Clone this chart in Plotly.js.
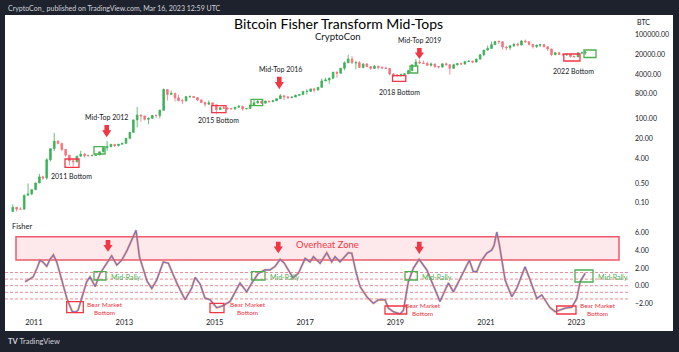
<!DOCTYPE html>
<html>
<head>
<meta charset="utf-8">
<script src="https://cdn.plot.ly/plotly-3.0.1.min.js"></script>
<style>html,body{margin:0;padding:0;background:#1e222d;}#chart{width:679px;height:352px;}</style>
</head>
<body>
<div id="chart"></div>
<script>
// ---------- DATA ----------
// Monthly BTC candles, Jul 2010 .. Mar 2023 (open = previous month's close)
const firstCandleMonth = '2010-07';
const firstOpen = 0.05;
const closes = [
  0.07, 0.06, 0.06, 0.19, 0.21, 0.30,
  0.52, 0.86, 0.78, 3.5, 8.7, 16.1, 13.4, 8.2, 5.1, 3.2, 3.0, 4.7,
  5.5, 4.9, 4.9, 5.0, 5.2, 6.7, 9.4, 10.2, 12.4, 11.2, 12.6, 13.5,
  20.4, 33.4, 93, 139, 129, 97, 106, 135, 133, 204, 1130, 757,
  830, 570, 450, 445, 630, 640, 585, 480, 387, 338, 378, 320,
  217, 254, 244, 236, 230, 263, 284, 230, 236, 314, 377, 430,
  369, 437, 416, 448, 531, 673, 624, 575, 609, 700, 742, 964,
  970, 1190, 1080, 1348, 2300, 2480, 2875, 4700, 4340, 6470, 10200, 13860,
  10200, 10330, 6930, 9240, 7490, 6400, 7730, 7030, 6630, 6370, 4040, 3740,
  3460, 3850, 4100, 5320, 8570, 10820, 10080, 9630, 8290, 9200, 7570, 7190,
  9350, 8600, 6440, 8660, 9460, 9140, 11350, 11660, 10780, 13800, 19700, 28990,
  33100, 45200, 58800, 57700, 37300, 35000, 41500, 47100, 43800, 61300, 57000, 46300,
  38500, 43200, 45500, 37700, 31800, 19900, 23300, 20050, 19400, 20500, 17200, 16550,
  23100, 23150, 24400
];
const highs = [
  0.09, 0.07, 0.07, 0.19, 0.50, 0.30,
  0.52, 1.10, 0.95, 4.0, 8.8, 31.9, 17.5, 14.0, 8.5, 5.2, 3.6, 4.8,
  7.4, 6.1, 5.4, 5.3, 5.2, 6.8, 9.7, 16.4, 12.6, 12.9, 12.8, 13.6,
  20.8, 33.5, 95, 266, 140, 129, 111, 138, 144, 218, 1242, 1163,
  1030, 864, 720, 540, 630, 680, 660, 600, 500, 420, 460, 382,
  320, 265, 300, 261, 247, 268, 317, 285, 247, 334, 503, 470,
  463, 448, 441, 467, 548, 780, 705, 625, 612, 740, 754, 976,
  1153, 1200, 1290, 1350, 2760, 2990, 2950, 4770, 4980, 6470, 11400, 19700,
  17700, 11800, 11700, 9760, 9990, 7760, 8500, 7760, 7400, 7400, 6570, 4310,
  4110, 4210, 4150, 5640, 9070, 13880, 13180, 12330, 10940, 10370, 9510, 7740,
  9590, 10500, 9190, 9460, 10070, 10420, 11450, 12470, 12070, 14100, 19900, 29300,
  41900, 58300, 61800, 64900, 59500, 41300, 42300, 50500, 52900, 67000, 69000, 59100,
  47900, 45800, 48200, 47400, 39800, 31900, 24700, 25200, 22800, 21000, 21500, 18400,
  23900, 25250, 26500
];
const lows = [
  0.05, 0.05, 0.06, 0.06, 0.19, 0.19,
  0.29, 0.52, 0.68, 0.67, 3.0, 7.2, 12.6, 7.1, 4.5, 2.2, 2.0, 2.8,
  4.6, 4.2, 4.6, 4.7, 4.9, 5.2, 6.5, 7.1, 9.9, 10.0, 10.4, 12.6,
  13.2, 19.1, 33, 50, 80, 88, 65, 100, 110, 106, 200, 456,
  745, 420, 439, 340, 420, 560, 563, 440, 370, 275, 320, 305,
  152, 210, 240, 215, 226, 216, 253, 198, 225, 235, 309, 350,
  350, 364, 396, 413, 440, 527, 470, 530, 570, 605, 685, 745,
  752, 920, 890, 1060, 1340, 2300, 1830, 2650, 2970, 4110, 5500, 10900,
  9400, 5900, 6600, 6430, 7040, 5750, 6070, 5880, 6140, 6200, 3650, 3160,
  3400, 3380, 3730, 4100, 5330, 7450, 9070, 9460, 7800, 7400, 6530, 6430,
  6850, 8480, 3860, 6200, 8130, 8930, 8980, 10990, 9880, 10540, 13200, 17600,
  28100, 32300, 45000, 47000, 30000, 28800, 29300, 37300, 39600, 43300, 53300, 42000,
  32900, 34300, 37200, 37600, 26700, 17600, 18800, 19600, 18200, 18200, 15500, 16300,
  16500, 21400, 19600
];

// Fisher transform readings
const fisherDates = [
  '2010-10-22','2010-12-01','2010-12-26','2011-01-27','2011-02-20','2011-03-14','2011-04-15','2011-05-12',
  '2011-06-08','2011-07-05','2011-08-17','2011-09-26','2011-11-06','2011-11-30','2011-12-24','2012-01-09',
  '2012-02-11','2012-03-03','2012-03-30','2012-05-10','2012-06-19','2012-08-12','2012-09-21','2012-11-01',
  '2012-12-11','2013-01-23','2013-03-02','2013-04-06','2013-05-03','2013-06-04','2013-07-04','2013-08-11',
  '2013-09-20','2013-11-12','2013-12-23','2014-03-01','2014-05-07','2014-06-30','2014-07-27','2014-09-05',
  '2014-10-15','2014-11-25','2015-01-18','2015-03-02','2015-05-05','2015-07-25','2015-09-17','2015-10-28',
  '2015-12-20','2016-02-12','2016-03-24','2016-05-03','2016-06-13','2016-07-15','2016-08-19','2016-09-25',
  '2016-11-07','2017-01-01','2017-02-10','2017-03-09','2017-05-02','2017-06-25','2017-08-04','2017-08-31',
  '2017-10-10','2017-12-16','2018-01-13','2018-02-17','2018-03-21','2018-05-14','2018-07-06','2018-08-16',
  '2018-10-09','2018-11-05','2018-12-15','2019-02-07','2019-03-06','2019-04-15','2019-05-26','2019-07-11',
  '2019-09-11','2019-10-21','2019-11-25','2019-12-27','2020-02-06','2020-03-04','2020-04-13','2020-06-20',
  '2020-08-20','2020-09-21','2020-10-19','2020-11-23','2021-01-08','2021-02-17','2021-03-08','2021-03-30',
  '2021-04-20','2021-06-05','2021-07-29','2021-09-07','2021-11-13','2021-12-24','2022-02-16','2022-03-28',
  '2022-04-24','2022-06-03','2022-07-14','2022-08-23','2022-10-02','2022-11-26','2023-01-05','2023-02-01',
  '2023-03-13'
];
const fisherValues = [
  0.45, 0.8, 1.0, 2.0, 2.9, 2.7, 2.2, 3.0,
  3.5, 2.7, 0.5, -1.5, -2.9, -3.0, -2.8, -2.0,
  -0.3, 0.45, 1.0, -0.1, 1.4, 2.6, 3.4, 2.35,
  2.9, 4.0, 5.2, 6.3, 3.3, 1.8, 0.5, -0.3,
  0.65, 2.7, 2.55, 0.3, -1.6, -0.25, 0.95, 0.2,
  -1.4, -1.6, -2.5, -2.3, -1.8, 0.3, -0.7, 0.3,
  1.4, 1.8, 1.8, 2.2, 3.0, 2.6, 1.8, 0.9,
  1.4, 3.1, 2.7, 3.3, 2.55, 3.75, 2.7, 3.3,
  2.7, 3.75, 3.7, 1.5, -0.1, -1.25, -2.0, -1.6,
  -1.6, -2.55, -2.95, -3.2, -2.8, 0.45, 2.0, 3.0,
  1.8, 0.45, -0.8, -1.8, -0.5, 0.3, -0.7, 1.2,
  2.9, 1.6, 1.6, 2.8, 3.7, 4.05, 4.6, 6.1,
  4.6, 0.65, -1.25, -0.3, 2.15, 0.65, -1.45, -1.05,
  -1.6, -2.5, -2.95, -2.75, -2.55, -2.45, -1.45, 0.45,
  1.4
];
const fisherLevels = [1.5, 0.75, 0, -0.75, -1.5];

const yearTicks = ['2011','2013','2015','2017','2019','2021','2023'];
const priceTicks = [0.1, 0.5, 4, 20, 100, 800, 4000, 20000, 100000];
const priceTickText = ['0.10','0.50','4.00','20.00','100.00','800.00','4000.00','20000.00','100000.00'];
const fisherTicks = [-2, 0, 2, 4, 6];
const fisherTickText = ['−2.00','0.00','2.00','4.00','6.00'];

// ---------- BUILD ----------
const candleDates = closes.map((_, i) => {
  const [y0, m0] = firstCandleMonth.split('-').map(Number);
  const m = m0 - 1 + i;
  return `${y0 + Math.floor(m / 12)}-${String(m % 12 + 1).padStart(2, '0')}-15`;
});
const opens = [firstOpen].concat(closes.slice(0, -1));

const W = 679, H = 352;
const px = x => x / W;
const py = y => 1 - y / H;
const FONT = "Lato, 'Open Sans', sans-serif";
const RED = '#f23645', GREEN = '#4caf50', UP = '#3fb15a', DOWN = '#f4747d';

const traces = [
  {
    type: 'candlestick', x: candleDates, open: opens, high: highs, low: lows, close: closes,
    xaxis: 'x', yaxis: 'y',
    increasing: {line: {color: UP, width: 0.8}, fillcolor: UP},
    decreasing: {line: {color: DOWN, width: 0.8}, fillcolor: DOWN},
    whiskerwidth: 0, showlegend: false, hoverinfo: 'skip'
  },
  {
    type: 'scatter', mode: 'lines', x: fisherDates, y: fisherValues, xaxis: 'x', yaxis: 'y2',
    line: {color: '#ff8a33', width: 2.2}, opacity: 0.75, showlegend: false, hoverinfo: 'skip'
  },
  {
    type: 'scatter', mode: 'lines', x: fisherDates, y: fisherValues, xaxis: 'x', yaxis: 'y2',
    line: {color: '#5468f0', width: 1.1}, opacity: 0.85, showlegend: false, hoverinfo: 'skip'
  }
];

const shapes = [];
// white chart canvas
shapes.push({type: 'rect', xref: 'paper', yref: 'paper', x0: px(5), x1: px(673), y0: py(331), y1: py(15),
  fillcolor: '#ffffff', line: {width: 0}, layer: 'below'});
// overheat zone
shapes.push({type: 'rect', xref: 'paper', yref: 'paper', x0: px(16), x1: px(619), y0: py(260), y1: py(236.7),
  fillcolor: '#fde8eb', line: {color: '#f0596b', width: 1.5}, layer: 'below'});
// dashed fisher levels
fisherLevels.forEach(v => shapes.push({type: 'line', xref: 'paper', yref: 'y2', x0: px(5), x1: px(630), y0: v, y1: v,
  line: {color: '#ee8c98', width: 1, dash: '3px,2px'}, layer: 'below'}));

function box(x0, x1, y0, y1, color) {
  shapes.push({type: 'rect', xref: 'paper', yref: 'paper', x0: px(x0), x1: px(x1), y0: py(y1), y1: py(y0),
    line: {color: color, width: 1.3}, fillcolor: 'rgba(0,0,0,0)'});
}
function arrow(cx, top, bot) {
  const hs = top + (bot - top) * 0.42;
  const pts = [[cx - 2.3, top], [cx + 2.3, top], [cx + 2.3, hs], [cx + 4.6, hs], [cx, bot], [cx - 4.6, hs], [cx - 2.3, hs]];
  const path = 'M' + pts.map(p => px(p[0]).toFixed(5) + ',' + py(p[1]).toFixed(5)).join(' L') + ' Z';
  shapes.push({type: 'path', xref: 'paper', yref: 'paper', path: path, fillcolor: RED, line: {width: 0}});
}
// price pane boxes & arrows
box(65, 79, 159, 167.3, RED);
box(94, 105, 146.7, 154, GREEN);
box(211.7, 226, 105.7, 112.7, RED);
box(251, 262.7, 99.3, 105.7, GREEN);
box(392.5, 405.8, 75.6, 81.4, RED);
box(410, 417.7, 66, 73, GREEN);
box(563.8, 580, 54, 61, RED);
box(584, 596, 50, 57.5, GREEN);
arrow(106.7, 125, 137.3);
arrow(279.3, 76.7, 89.3);
arrow(419.4, 48, 59);
// fisher pane boxes & arrows
box(66.7, 83.3, 301.7, 312.7, RED);
box(94, 106, 271.7, 280, GREEN);
box(210, 224, 303.3, 312.7, RED);
box(251.7, 265, 271.7, 280, GREEN);
box(385, 406.7, 306, 314, RED);
box(405, 417.3, 271.7, 280, GREEN);
box(556.7, 576, 306, 314, RED);
box(575, 593, 270, 282, GREEN);
arrow(108, 240, 251.7);
arrow(278.3, 241.7, 253.3);
arrow(419.3, 241.7, 254);

const annotations = [];
function txt(text, x, y, size, color, anchor, extra) {
  annotations.push(Object.assign({text: text, xref: 'paper', yref: 'paper', x: px(x), y: py(y),
    xanchor: anchor || 'center', yanchor: 'middle', showarrow: false,
    font: {family: FONT, size: size, color: color}}, extra || {}));
}
txt('CryptoCon_ published on TradingView.com, Mar 16, 2023 12:59 UTC', 6, 8.5, 7, '#d1d4dc', 'left');
txt('<b>TV</b> TradingView', 6, 341, 7.5, '#d1d4dc', 'left');
txt('Bitcoin Fisher Transform Mid-Tops', 338, 23.3, 14, '#000000');
txt('CryptoCon', 337.7, 36.7, 9.5, '#131722');
txt('Mid-Top 2012', 106.7, 116.7, 7, '#131722');
txt('2011 Bottom', 71, 176, 7, '#131722');
txt('2015 Bottom', 218.3, 120, 7, '#131722');
txt('Mid-Top 2016', 280, 69.3, 7, '#131722');
txt('2018 Bottom', 399.3, 91.7, 7, '#131722');
txt('Mid-Top 2019', 419.4, 40.5, 7, '#131722');
txt('2022 Bottom', 573, 70.5, 7, '#131722');
txt('BTC', 635, 22, 7, '#131722', 'left');
txt('Fisher', 10, 226, 7.5, '#131722', 'left');
txt('Overheat Zone', 327, 244, 9.5, RED);
[109, 268.3, 420, 596].forEach(x => txt('Mid-Rally', x, 276.5, 7, GREEN, 'left'));
[[105, 308.5], [248, 308], [423.3, 309.5], [598.3, 309.5]].forEach(a => {
  txt('Bear Market<br>Bottom', a[0], a[1], 6.5, RED);
});

const layout = {
  width: W, height: H,
  margin: {l: 0, r: 0, t: 0, b: 0},
  paper_bgcolor: '#1e222d', plot_bgcolor: 'rgba(0,0,0,0)',
  showlegend: false, hovermode: false,
  font: {family: FONT, color: '#131722'},
  xaxis: {
    domain: [px(5), px(630)], anchor: 'y2', type: 'date',
    range: ['2010-05-13', '2024-03-10'],
    tickvals: yearTicks.map(y => y + '-01-01'), ticktext: yearTicks,
    showgrid: false, zeroline: false, showline: false, ticks: '',
    tickfont: {family: FONT, size: 7.5, color: '#131722'},
    rangeslider: {visible: false}
  },
  yaxis: {
    domain: [py(222), py(16)], type: 'log', range: [-1.679, 5.679], side: 'right', anchor: 'x',
    tickvals: priceTicks, ticktext: priceTickText,
    showgrid: false, zeroline: false, showline: false, ticks: '', ticklabelstandoff: 4,
    tickfont: {family: FONT, size: 7, color: '#131722'}
  },
  yaxis2: {
    domain: [py(316), py(222)], range: [-3.44, 7.24], side: 'right', anchor: 'x',
    tickvals: fisherTicks, ticktext: fisherTickText,
    showgrid: false, zeroline: false, showline: false, ticks: '', ticklabelstandoff: 4,
    tickfont: {family: FONT, size: 7, color: '#131722'}
  },
  shapes: shapes,
  annotations: annotations
};

Plotly.newPlot('chart', traces, layout, {displayModeBar: false, staticPlot: true});
</script>
</body>
</html>
